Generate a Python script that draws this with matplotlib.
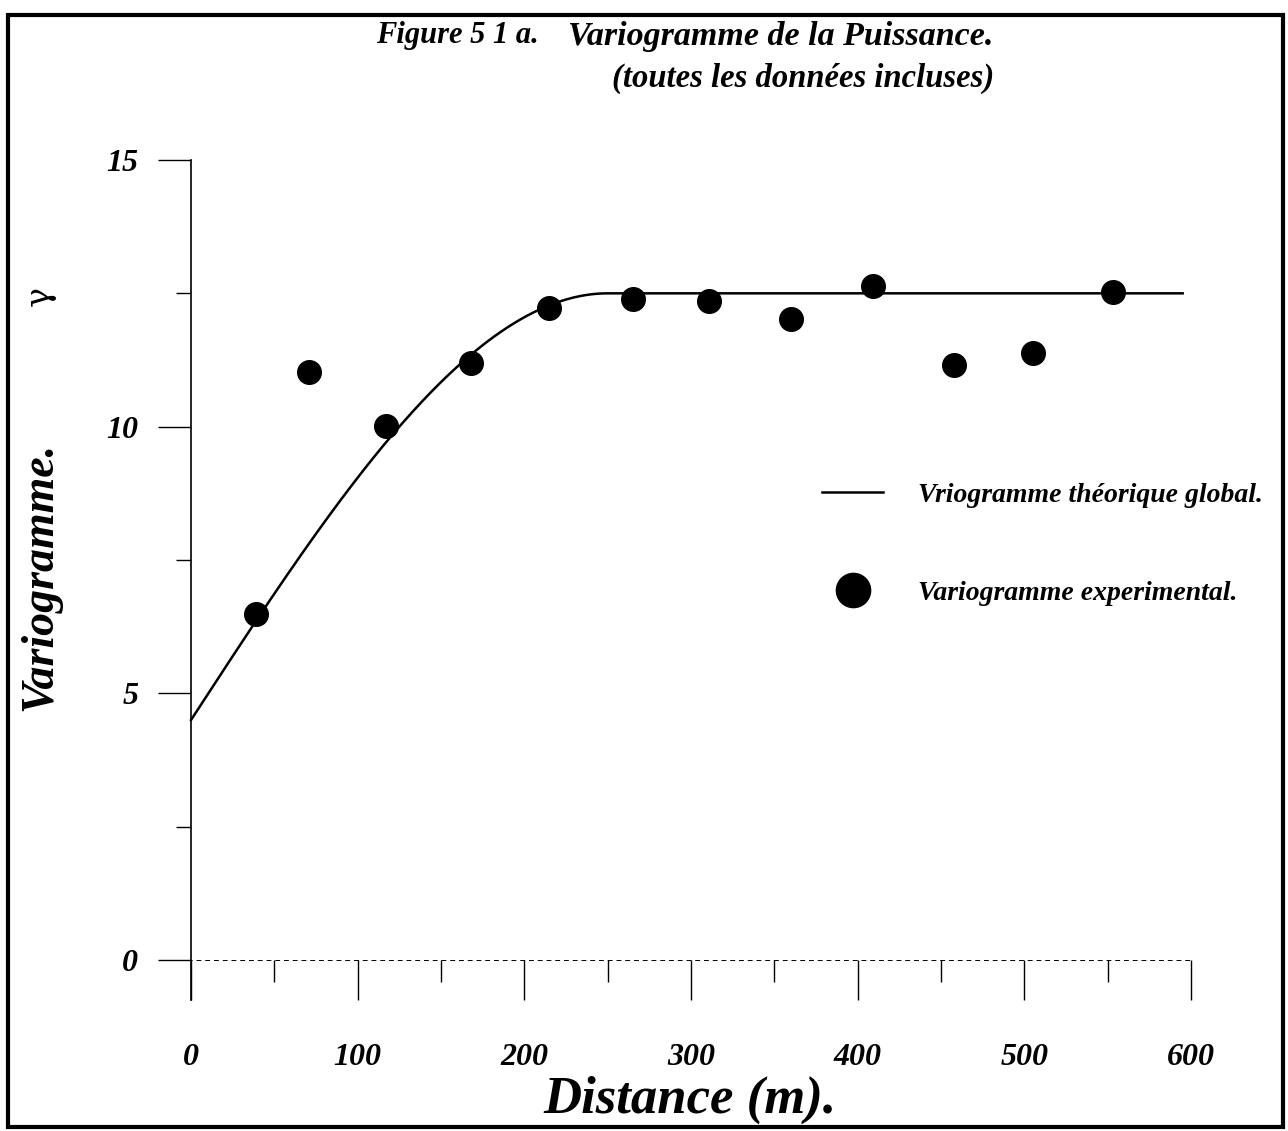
import numpy as np
import matplotlib
matplotlib.use("Agg")
import matplotlib.pyplot as plt
from matplotlib.patches import Rectangle

plt.rcParams['font.family'] = ['Liberation Serif', 'DejaVu Serif']
plt.rcParams['font.weight'] = 'bold'
plt.rcParams['font.style'] = 'italic'

# ---- data ----
dist_exp = [39, 71, 117, 168, 215, 265, 311, 360, 409, 458, 505, 553]
gamma_exp = [6.49, 11.03, 10.02, 11.19, 12.23, 12.40, 12.36, 12.01, 12.64, 11.15, 11.38, 12.53]

# spherical model
nugget = 4.5
sill = 12.5
model_range = 250
model_xmax = 595

x_ticks = [0, 100, 200, 300, 400, 500, 600]
y_ticks = [0, 5, 10, 15]

title_1a = "Figure 5 1 a."
title_1b = "Variogramme de la Puissance."
title_2 = "(toutes les données incluses)"
xlabel = "Distance (m)."
ylabel = "Variogramme."
legend_labels = ["Vriogramme théorique global.", "Variogramme experimental."]

W, H = 1288, 1131
fig = plt.figure(figsize=(W / 100, H / 100), dpi=100)
fig.patch.set_facecolor('white')

# axes placement (pixels): x 0..600 -> 191..1191, y 0..15 -> 960..160
ax = fig.add_axes([191 / W, 1 - 960 / H, 1000 / W, 800 / H])
ax.set_xlim(0, 600)
ax.set_ylim(0, 15)
ax.patch.set_alpha(0)

for s in ['top', 'right', 'bottom']:
    ax.spines[s].set_visible(False)
ax.spines['left'].set_bounds(-0.75, 15)
ax.spines['left'].set_linewidth(1.2)

# theoretical spherical model
h = np.linspace(0, model_xmax, 600)
hr = np.clip(h / model_range, 0, 1)
g = nugget + (sill - nugget) * (1.5 * hr - 0.5 * hr ** 3)
ax.plot(h, g, color='black', lw=1.8, label=legend_labels[0], clip_on=False)

# experimental points
ax.plot(dist_exp, gamma_exp, 'o', color='black', ms=17, label=legend_labels[1], clip_on=False)

# faint dashed baseline at y=0
ax.plot([-18, 600], [0, 0], color='black', lw=0.7, ls=(0, (5, 4)), clip_on=False)

ax.set_xticks(x_ticks)
ax.set_xticklabels([str(v) for v in x_ticks])
ax.set_xticks([50, 150, 250, 350, 450, 550], minor=True)
ax.set_yticks(y_ticks)
ax.set_yticklabels([str(v) for v in y_ticks])
ax.set_yticks([2.5, 7.5, 12.5], minor=True)

ax.tick_params(axis='x', which='major', direction='out', length=29, width=1.0, pad=31, labelsize=23)
ax.tick_params(axis='x', which='minor', direction='out', length=16, width=1.0)
ax.tick_params(axis='y', which='major', direction='out', length=24, width=1.0, pad=14, labelsize=23)
ax.tick_params(axis='y', which='minor', direction='out', length=11, width=1.0)
for lab in ax.get_xticklabels() + ax.get_yticklabels():
    lab.set_fontweight('bold')
    lab.set_fontstyle('italic')

ax.set_xlabel(xlabel, fontsize=38, fontweight='bold', fontstyle='italic')
ax.xaxis.set_label_coords(0.499, -0.175)
ax.xaxis.label.set_va('center')

ax.set_ylabel(ylabel, fontsize=33, fontweight='bold', fontstyle='italic')
ax.yaxis.set_label_coords(-0.151, 0.48)
ax.yaxis.label.set_va('center')
ax.text(-0.151, 0.83, "γ", transform=ax.transAxes, rotation=90, fontsize=24,
        fontweight='normal', fontstyle='normal', ha='center', va='center',
        family=['DejaVu Serif'])

leg = ax.legend(loc='upper left', bbox_to_anchor=(0.631, 0.597), frameon=False,
                fontsize=20, handlelength=2.2, handletextpad=1.25, labelspacing=2.6,
                borderpad=0, borderaxespad=0, markerscale=1.45, numpoints=1)

# title
fig.text(376 / W, 1 - 36 / H, title_1a, fontsize=22, ha='left', va='center')
fig.text(568 / W, 1 - 36 / H, title_1b, fontsize=24.5, ha='left', va='center')
fig.text(612 / W, 1 - 78 / H, title_2, fontsize=23.5, ha='left', va='center')

# scanned page frame
fig.patches.append(Rectangle((8 / W, 1 - 1127 / H), (1283 - 8) / W, (1127 - 15) / H,
                             transform=fig.transFigure, fill=False, lw=3, ec='black'))

fig.savefig('out.png', dpi=100)
